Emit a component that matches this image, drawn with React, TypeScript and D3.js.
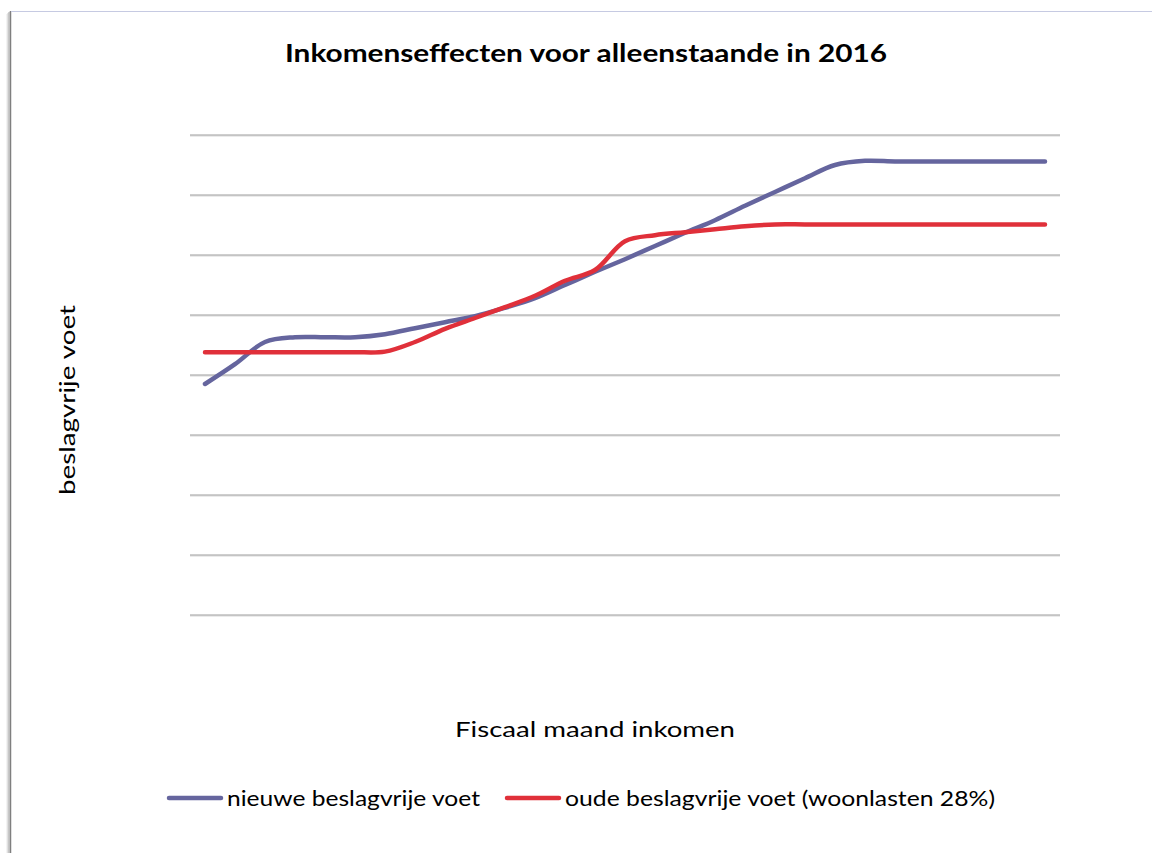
import React from 'react';
import * as d3 from 'd3';

// values (no tick labels in the source, so units are arbitrary grid steps)
const nieuwe = [
  3.85, 4.18, 4.55, 4.63, 4.63, 4.63, 4.68, 4.78, 4.88, 4.98,
  5.12, 5.28, 5.5, 5.72, 5.93, 6.15, 6.37, 6.58, 6.82, 7.05,
  7.28, 7.5, 7.57, 7.56, 7.56, 7.56, 7.56, 7.56, 7.56,
];
const oude = [
  4.38, 4.38, 4.38, 4.38, 4.38, 4.38, 4.39, 4.55, 4.77, 4.95,
  5.13, 5.32, 5.57, 5.75, 6.23, 6.33, 6.38, 6.43, 6.48, 6.51,
  6.51, 6.51, 6.51, 6.51, 6.51, 6.51, 6.51, 6.51, 6.51,
];
const categories = nieuwe.map((_, i) => i);
const gridValues = [0, 1, 2, 3, 4, 5, 6, 7, 8];

const series = [
  { name: 'nieuwe beslagvrije voet', values: nieuwe, color: '#65659e' },
  { name: 'oude beslagvrije voet (woonlasten 28%)', values: oude, color: '#e0303a' },
];

const FONT = 'Lato, "Open Sans", sans-serif';

export default function App() {
  const width = 1152;
  const height = 853;

  const x = d3.scalePoint<number>().domain(categories).range([190, 1060]).padding(0.5);
  const y = d3.scaleLinear().domain([0, 8]).range([615, 135]);

  const line = d3
    .line<number>()
    .x((_, i) => x(i) as number)
    .y((d) => y(d))
    .curve(d3.curveCatmullRom);

  return (
    <svg
      width={width}
      height={height}
      style={{ position: 'absolute', left: 0, top: 0, background: '#fff' }}
      fontFamily={FONT}
    >
      {/* chart frame with shadow on the left */}
      <line x1={7} x2={7} y1={14} y2={height} stroke="#e6e6e6" strokeWidth={1} />
      <line x1={8} x2={8} y1={13} y2={height} stroke="#cfcfcf" strokeWidth={1} />
      <line x1={9} x2={9} y1={12} y2={height} stroke="#a8a8a8" strokeWidth={1} />
      <line x1={10.5} x2={10.5} y1={11} y2={height} stroke="#7f7f7f" strokeWidth={1.5} />
      <line x1={11} x2={width} y1={11.5} y2={11.5} stroke="#c6cae2" strokeWidth={1} />

      {/* gridlines */}
      {gridValues.map((v) => (
        <g key={v}>
          <line x1={190} x2={1060} y1={y(v) + 1} y2={y(v) + 1} stroke="#d8d8d8" strokeWidth={1} />
          <line x1={190} x2={1060} y1={y(v)} y2={y(v)} stroke="#9c9c9c" strokeWidth={1} />
        </g>
      ))}

      {series.map((s) => (
        <path
          key={s.name}
          d={line(s.values) || ''}
          fill="none"
          stroke={s.color}
          strokeWidth={4.5}
          strokeLinecap="round"
          strokeLinejoin="round"
        />
      ))}

      <text
        x={586}
        y={62}
        textAnchor="middle"
        fontWeight="bold"
        fontSize={25}
        fill="#000"
        textLength={602}
        lengthAdjust="spacingAndGlyphs"
      >
        Inkomenseffecten voor alleenstaande in 2016
      </text>

      <text
        transform="translate(75,400) rotate(-90)"
        textAnchor="middle"
        fontSize={22}
        fill="#000"
        textLength={190}
        lengthAdjust="spacingAndGlyphs"
      >
        beslagvrije voet
      </text>

      <text
        x={595}
        y={737}
        textAnchor="middle"
        fontSize={22}
        fill="#000"
        textLength={280}
        lengthAdjust="spacingAndGlyphs"
      >
        Fiscaal maand inkomen
      </text>

      {/* legend */}
      <line x1={169} x2={221} y1={798} y2={798} stroke={series[0].color} strokeWidth={4.5} strokeLinecap="round" />
      <text x={227} y={806} fontSize={22} fill="#000" textLength={253} lengthAdjust="spacingAndGlyphs">
        {series[0].name}
      </text>
      <line x1={507} x2={559} y1={798} y2={798} stroke={series[1].color} strokeWidth={4.5} strokeLinecap="round" />
      <text x={565} y={806} fontSize={22} fill="#000" textLength={430} lengthAdjust="spacingAndGlyphs">
        {series[1].name}
      </text>
    </svg>
  );
}
